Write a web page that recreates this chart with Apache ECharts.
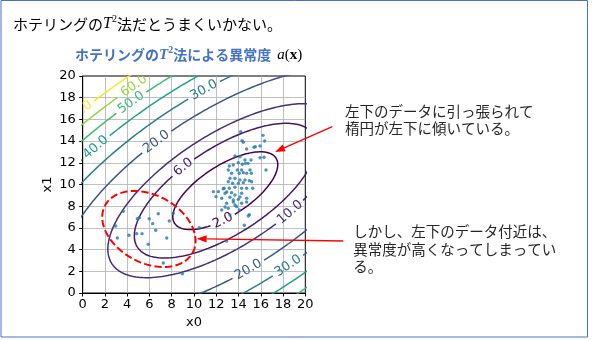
<!DOCTYPE html>
<html>
<head>
<meta charset="utf-8">
<script src="https://cdn.jsdelivr.net/npm/echarts@6.0.0/dist/echarts.min.js"></script>
<style>
html,body{margin:0;padding:0;background:#fff;}
#main{width:593px;height:340px;}
</style>
</head>
<body>
<div id="main"></div>
<script>
// ---- axis ticks ----
const xTicks = [0, 2, 4, 6, 8, 10, 12, 14, 16, 18, 20];
const yTicks = [0, 2, 4, 6, 8, 10, 12, 14, 16, 18, 20];

// ---- observations: main cluster ----
const mainX = [14.19,16.20,14.31,14.43,15.51,15.93,16.35,13.68,14.13,13.17,13.53,13.98,14.34,14.61,14.85,13.08,13.89,14.28,15.03,16.47,
  13.38,14.07,14.43,14.73,15.15,13.23,13.68,14.13,14.58,14.97,13.08,13.47,13.98,14.43,15.18,12.70,13.17,13.68,14.28,14.73,
  15.27,11.74,12.19,12.79,13.38,13.68,14.28,11.98,12.49,13.23,13.53,13.98,14.73,12.93,13.68,14.28,13.08,13.83,12.49,14.07,
  14.88,13.23,12.63,12.94,13.53,12.79,14.13,14.73,14.97,14.52,12.94,15.39,14.73,16.29,15.93,15.12,14.58,10.48];
const mainY = [14.87,14.53,14.04,13.89,13.49,13.55,14.01,12.63,12.56,11.71,11.80,12.01,11.86,11.95,11.95,11.34,11.34,11.34,11.34,11.34,
  11.03,11.03,11.09,11.03,11.03,10.57,10.57,10.42,10.42,10.35,10.26,10.11,10.11,10.17,10.26,9.65,9.65,9.74,9.65,9.65,
  9.65,9.34,9.34,9.19,9.25,9.03,9.19,8.88,8.73,8.82,8.57,8.63,8.73,8.27,8.11,8.27,7.80,7.96,7.65,7.65,
  7.10,7.19,9.61,9.31,8.39,7.93,8.85,8.39,7.22,6.24,4.79,13.43,13.27,12.51,12.47,12.26,12.26,6.02];

// ---- observations: lower-left group ----
const lowX = [3.65,2.96,3.11,4.16,4.91,5.09,4.85,5.33,5.98,6.29,6.79,6.56,5.89,7.78,7.55,8.14,7.24,8.95];
const lowY = [7.53,6.18,5.07,5.32,6.85,6.94,5.47,5.47,6.85,6.39,7.31,5.78,4.49,6.64,5.07,7.35,2.76,1.78];

// ---- Hotelling T^2 model: mean vector and covariance matrix ----
const meanVec = [12.81, 9.43];
const covRow0 = [11.13, 5.67];
const covRow1 = [5.67, 6.43];

// ---- anomaly-score contour levels ----
const levels = [2, 6, 10, 20, 30, 40, 50, 60, 70];
const levelColors = ['#440154','#48186a','#472d7b','#39568c','#287d8e','#1fa088','#3fbc73','#98d83e','#fde725'];

// ---- contour label placement (level, x0, x1) ----
const labelLevel = [2, 6, 10, 20, 20, 30, 30, 40, 50, 60, 70];
const labelX0 = [12.63, 9.25, 18.54, 6.8, 14.94, 11.05, 18.33, 1.31, 4.55, 4.7, -0.25];
const labelX1 = [6.6, 11.36, 7.47, 13.8, 2.18, 18.55, 2.79, 13.24, 17.45, 18.83, 16.6];

const chart = echarts.init(document.getElementById('main'), null, {width: 593, height: 340});
const GRID = {left: 82.7, top: 76, width: 222.6, height: 217};
const tickFont = {color: '#000', fontSize: 13, fontFamily: 'DejaVu Sans'};

chart.setOption({
  animation: false,
  backgroundColor: '#fff',
  grid: {left: GRID.left, top: GRID.top, width: GRID.width, height: GRID.height, show: true, borderColor: '#000', borderWidth: 1, backgroundColor: 'transparent'},
  xAxis: {type: 'value', min: xTicks[0], max: xTicks[xTicks.length-1], interval: xTicks[1]-xTicks[0],
    axisLine: {show: true, onZero: false, lineStyle: {color: '#000', width: 1}},
    axisTick: {show: true, length: 3.5, lineStyle: {color: '#000'}},
    axisLabel: Object.assign({margin: 5}, tickFont),
    splitLine: {show: true, showMinLine: false, showMaxLine: false, lineStyle: {color: '#b0b0b0', width: 0.8}},
    name: 'x0', nameLocation: 'middle', nameGap: 23, nameTextStyle: tickFont},
  yAxis: {type: 'value', min: yTicks[0], max: yTicks[yTicks.length-1], interval: yTicks[1]-yTicks[0],
    axisLine: {show: true, onZero: false, lineStyle: {color: '#000', width: 1}},
    axisTick: {show: true, length: 3.5, lineStyle: {color: '#000'}},
    axisLabel: Object.assign({margin: 7}, tickFont),
    splitLine: {show: true, showMinLine: false, showMaxLine: false, lineStyle: {color: '#b0b0b0', width: 0.8}},
    name: 'x1', nameLocation: 'middle', nameGap: 29, nameTextStyle: tickFont},
  series: []
});

const toPx = (p) => chart.convertToPixel({gridIndex: 0}, p);
const measure = (() => { const c = document.createElement('canvas').getContext('2d'); c.font = '13px "DejaVu Sans"'; return (t) => c.measureText(t).width; })();

// level set of (x - mean)^T S^-1 (x - mean) = L  ->  mean + sqrt(L) * chol(S) * unit circle
const l11 = Math.sqrt(covRow0[0]), l21 = covRow0[1] / l11, l22 = Math.sqrt(covRow1[1] - l21 * l21);
const N = 720;
const series = [];
const labelItems = [];
levels.forEach((L, li) => {
  const s = Math.sqrt(L);
  const pts = [];
  for (let i = 0; i < N; i++) {
    const t = 2 * Math.PI * i / N, u = Math.cos(t), v = Math.sin(t);
    pts.push([meanVec[0] + s * l11 * u, meanVec[1] + s * (l21 * u + l22 * v)]);
  }
  const px = pts.map(toPx);
  const cut = new Array(N).fill(false);
  labelLevel.forEach((lv, k) => {
    if (lv !== L) return;
    const tp = toPx([labelX0[k], labelX1[k]]);
    let best = 0, bd = Infinity;
    px.forEach((p, i) => { const d = (p[0]-tp[0])**2 + (p[1]-tp[1])**2; if (d < bd) { bd = d; best = i; } });
    const a = px[(best - 3 + N) % N], b = px[(best + 3) % N];
    let ang = Math.atan2(b[1] - a[1], b[0] - a[0]);
    if (ang > Math.PI / 2) ang -= Math.PI; if (ang < -Math.PI / 2) ang += Math.PI;
    const text = L.toFixed(1);
    const half = measure(text) / 2 + 3;
    const c = px[best];
    for (let d = -N / 4; d <= N / 4; d++) {
      const i = (best + d + N) % N;
      if (Math.hypot(px[i][0] - c[0], px[i][1] - c[1]) < half) cut[i] = true;
    }
    labelItems.push({pos: pts[best], px: c, rot: -ang, text, color: levelColors[li]});
  });
  // split the closed curve into drawable runs
  let start = cut.indexOf(true); if (start < 0) start = 0;
  let seg = [];
  const flush = () => { if (seg.length > 1) series.push({type: 'line', data: seg, symbol: 'none', silent: true, clip: true, z: 2,
      lineStyle: {color: levelColors[li], width: 1.5}}); seg = []; };
  for (let k = 0; k <= N; k++) {
    const i = (start + k) % N;
    if (cut[i]) flush(); else seg.push(pts[i]);
  }
  flush();
});

series.push({type: 'custom', clip: true, z: 2, silent: true,
  data: labelItems.map(o => o.pos),
  renderItem: (params, api) => {
    const o = labelItems[params.dataIndex];
    return {type: 'text', x: o.px[0], y: o.px[1], rotation: o.rot,
      style: {text: o.text, fill: o.color, font: '13px "DejaVu Sans"', align: 'center', verticalAlign: 'middle'}};
  }});

series.push({type: 'scatter', data: mainX.map((x, i) => [x, mainY[i]]), symbolSize: 3.4, itemStyle: {color: '#1f77b4'}, z: 3, silent: true});
series.push({type: 'scatter', data: lowX.map((x, i) => [x, lowY[i]]), symbolSize: 3.4, itemStyle: {color: '#1f77b4'}, z: 3, silent: true});

// dashed ring around the lower-left group
const ring = {cx: 5.95, cy: 5.9, a: 4.5, b: 3.1, deg: -30};
const ringPts = [];
for (let i = 0; i <= 240; i++) {
  const t = 2 * Math.PI * i / 240, r = ring.deg * Math.PI / 180;
  const u = ring.a * Math.cos(t), v = ring.b * Math.sin(t);
  ringPts.push([ring.cx + u * Math.cos(r) - v * Math.sin(r), ring.cy + u * Math.sin(r) + v * Math.cos(r)]);
}
series.push({type: 'line', data: ringPts, symbol: 'none', silent: true, z: 4, lineStyle: {color: '#ff0000', width: 2, type: [7.4, 3.2]}});

// arrows from the notes to the plot
function arrow(tail, tipData) {
  const tip = toPx(tipData);
  const dx = tip[0] - tail[0], dy = tip[1] - tail[1], len = Math.hypot(dx, dy);
  const ux = dx / len, uy = dy / len, hl = 10, hw = 3.6;
  const bx = tip[0] - ux * hl, by = tip[1] - uy * hl;
  return [
    {type: 'line', shape: {x1: tail[0], y1: tail[1], x2: bx, y2: by}, style: {stroke: '#ff0000', lineWidth: 1.3}, z: 10},
    {type: 'polygon', shape: {points: [[tip[0], tip[1]], [bx - uy * hw, by + ux * hw], [bx + uy * hw, by - ux * hw]]}, style: {fill: '#ff0000'}, z: 10}
  ];
}

const jp = '"Noto Sans CJK JP", sans-serif';
const graphics = [
  {type: 'rect', shape: {x: 1, y: 0.5, width: 586.5, height: 336.5}, style: {fill: 'none', stroke: '#4472c4', lineWidth: 1}, z: 0},
  {type: 'text', x: 13, y: 24, style: {
    text: '{j|ホテリングの}{t|T}{s|2}{j|法だとうまくいかない。}', verticalAlign: 'middle',
    rich: {j: {fontFamily: jp, fontSize: 15, fill: '#000', lineHeight: 20},
           t: {fontFamily: '"Liberation Serif"', fontStyle: 'italic', fontSize: 16, fill: '#000', lineHeight: 20},
           s: {fontFamily: '"Liberation Serif"', fontSize: 10, fill: '#000', verticalAlign: 'top', lineHeight: 12}}}, z: 10},
  {type: 'text', x: 75, y: 55, style: {
    text: '{b|ホテリングの}{t|T}{s|2}{b|法による異常度}{g| }{a|a}{p|(}{x|x}{p|)}', verticalAlign: 'middle',
    rich: {b: {fontFamily: jp, fontSize: 14, fontWeight: 'bold', fill: '#4472c4', lineHeight: 20},
           t: {fontFamily: '"Liberation Serif"', fontStyle: 'italic', fontWeight: 'bold', fontSize: 15, fill: '#4472c4', lineHeight: 20},
           s: {fontFamily: '"Liberation Serif"', fontWeight: 'bold', fontSize: 10, fill: '#4472c4', verticalAlign: 'top', lineHeight: 12},
           g: {fontSize: 14, width: 6, lineHeight: 20},
           a: {fontFamily: '"Liberation Serif"', fontStyle: 'italic', fontSize: 15, fill: '#000', lineHeight: 20},
           p: {fontFamily: '"Liberation Serif"', fontSize: 15, fill: '#000', lineHeight: 20},
           x: {fontFamily: '"Liberation Serif"', fontWeight: 'bold', fontSize: 15, fill: '#000', lineHeight: 20}}}, z: 10},
  {type: 'text', x: 345, y: 103.4, style: {text: '左下のデータに引っ張られて\n楕円が左下に傾いている。',
    font: '14.5px ' + jp, fill: '#262626', lineHeight: 16.6, verticalAlign: 'top'}, z: 10},
  {type: 'text', x: 353.3, y: 223, style: {text: 'しかし、左下のデータ付近は、\n異常度が高くなってしまってい\nる。',
    font: '14.5px ' + jp, fill: '#262626', lineHeight: 17.5, verticalAlign: 'top'}, z: 10}
].concat(arrow([332.3, 126.7], [17.28, 13.0]), arrow([343.3, 241], [10.24, 5.0]));

chart.setOption({series, graphic: graphics});
</script>
</body>
</html>
